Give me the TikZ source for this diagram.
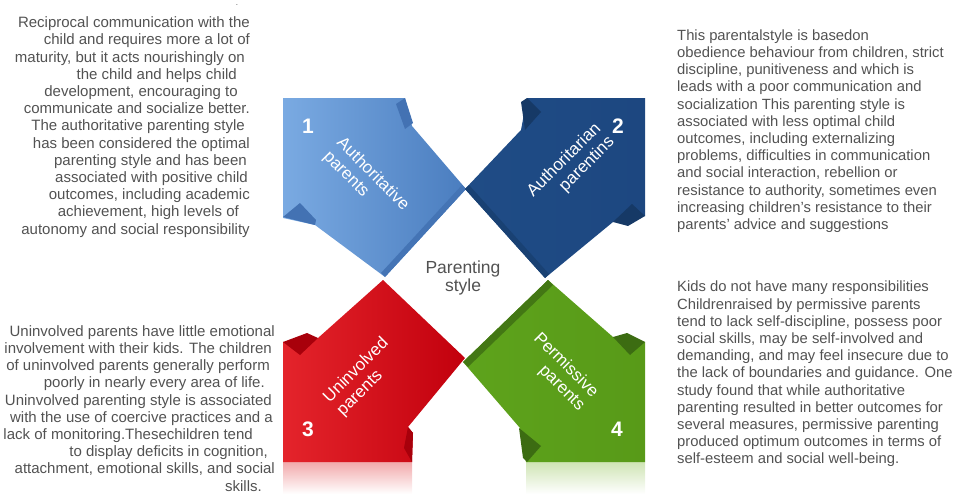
\documentclass[tikz,border=0pt]{standalone}
\usepackage{fontspec}
\setmainfont{Liberation Sans}
\definecolor{txtgray}{HTML}{525252}
\definecolor{blueL}{HTML}{7AAAE2}
\definecolor{blueR}{HTML}{4A7DBF}
\definecolor{blueDk}{HTML}{4372B3}
\definecolor{navy}{HTML}{1F4C86}
\definecolor{navyR}{HTML}{1D4780}
\definecolor{navyDk}{HTML}{163966}
\definecolor{redL}{HTML}{E4242B}
\definecolor{redR}{HTML}{C2000D}
\definecolor{redDk}{HTML}{A8000B}
\definecolor{grn}{HTML}{5EA31C}
\definecolor{grnR}{HTML}{589A18}
\definecolor{grnDk}{HTML}{3C6C12}
\definecolor{redRefl}{HTML}{F2A9AB}
\definecolor{grnRefl}{HTML}{CFE4B4}
\begin{document}
\begin{tikzpicture}[x=1pt,y=-1pt,
  body/.style={inner sep=0pt, text=txtgray, font=\fontsize{#1}{17.2}\selectfont},
  body/.default=15,
  num/.style={inner sep=0pt, text=white, font=\fontsize{21}{21}\selectfont\bfseries},
  label/.style={inner sep=0pt, text=white, font=\fontsize{17}{19}\selectfont},
  hub/.style={inner sep=0pt, text=txtgray, align=center, font=\fontsize{17.5}{15.7}\selectfont}]
\useasboundingbox (0,0) rectangle (956,495);

% ---- reflections under the two lower arrows
\shade[top color=redRefl, bottom color=white] (283,462) rectangle (412,494);
\shade[top color=grnRefl, bottom color=white] (526,462) rectangle (645,494);

% ---- arrow 1 (top left)
\path[left color=blueL, right color=blueR]
  (283,98) -- (405,98) -- (412,126) -- (466,189) -- (385,277) -- (315,225) -- (283,218) -- cycle;
\fill[blueDk] (396,104) -- (405,98) -- (413,123) -- (405,129) -- cycle;
\fill[blueDk] (283,217) -- (300,203) -- (316,220) -- (315,225) -- cycle;
\fill[blueDk!85!blueR] (466,189) -- (385,277) -- (381,273) -- (462,185) -- cycle;

% ---- arrow 2 (top right)
\path[left color=navy, right color=navyR]
  (645,98) -- (527,98) -- (521,130) -- (465,189) -- (545,278) -- (613,222) -- (645,216) -- cycle;
\fill[navyDk] (521,102) -- (527,98) -- (541,112) -- (525,130) -- cycle;
\fill[navyDk] (613,222) -- (632,204) -- (645,216) -- (628,226) -- cycle;
\fill[navyDk!60!navy] (465,189) -- (545,278) -- (549,274) -- (469,185) -- cycle;

% ---- arrow 3 (bottom left)
\path[left color=redL, right color=redR]
  (283,462) -- (412,462) -- (413,433) -- (408,427) -- (465,358) -- (383,280) -- (318,338) -- (283,342) -- cycle;
\fill[redDk] (283,342) -- (307,333) -- (318,338) -- (300,355) -- cycle;
\fill[redDk] (408,427) -- (413,433) -- (412,462) -- (404,448) -- cycle;

% ---- arrow 4 (bottom right)
\path[left color=grn, right color=grnR]
  (645,462) -- (526,462) -- (520,428) -- (463,362) -- (548,280) -- (613,337) -- (645,342) -- cycle;
\fill[grnDk!80!grn] (463,362) -- (548,280) -- (553,285) -- (468,367) -- cycle;
\fill[grnDk] (613,337) -- (627,333) -- (645,342) -- (630,355) -- cycle;
\fill[grnDk] (519,428) -- (541,446) -- (527,462) -- (523,458) -- cycle;

% ---- numbers and arrow labels
\node[num] (n1) at (308,126) {1};
\node[num] (n2) at (618,126) {2};
\node[num] (n3) at (308,429) {3};
\node[num] (n4) at (617,429) {4};

\node[label, rotate=-45, align=left]  (l1) at (366,181) {Authoritative\\parents};
\node[label, rotate=45,  align=right] (l2) at (571,167) {Authoritarian\\parentins};
\node[label, rotate=45,  align=left]  (l3) at (363,377) {Uninvolved\\parents};
\node[label, rotate=-45, align=right] (l4) at (559,372) {Permissive\\parents};

\node[hub, anchor=north] (hub) at (463,261) {Parenting\\style};

% ---- description texts
\node[body=8, anchor=center] (dot) at (237,5) {.};

\node[body, align=right, anchor=north east] (t1) at (250,16.6) {%
Reciprocal communication with the\\
child and requires more a lot of\\
maturity, but it acts nourishingly on\rule{5pt}{0pt}\\
the child and helps child\rule{13pt}{0pt}\\
development, encouraging to\rule{12pt}{0pt}\\
communicate and socialize better.\\
The authoritative parenting style\rule{5pt}{0pt}\\
has been considered the optimal\\
parenting style and has been\rule{3pt}{0pt}\\
associated with positive child\rule{2pt}{0pt}\\
outcomes, including academic\\
achievement, high levels of\rule{11pt}{0pt}\\
autonomy and social responsibility};

\node[body=14.8, align=left, anchor=north west] (t2) at (677,29.4) {%
This parentalstyle is basedon\\
obedience behaviour from children, strict\\
discipline, punitiveness and which is\\
leads with a poor communication and\\
socialization This parenting style is\\
associated with less optimal child\\
outcomes, including externalizing\\
problems, difficulties in communication\\
and social interaction, rebellion or\\
resistance to authority, sometimes even\\
increasing children's resistance to their\\
parents' advice and suggestions};

\node[body, align=right, anchor=north east] (t3) at (275,325.2) {%
Uninvolved parents have little emotional\\
involvement with their kids. The children\rule{3pt}{0pt}\\
of uninvolved parents generally perform\rule{5pt}{0pt}\\
poorly in nearly every area of life.\rule{10pt}{0pt}\\
Uninvolved parenting style is associated\rule{3pt}{0pt}\\
with the use of coercive practices and a\rule{2pt}{0pt}\\
lack of monitoring.Thesechildren tend\rule{22pt}{0pt}\\
to display deficits in cognition,\rule{7pt}{0pt}\\
attachment, emotional skills, and social\\
skills.\rule{13pt}{0pt}};

\node[body=14.8, align=left, anchor=north west] (t4) at (677,281) {%
Kids do not have many responsibilities\\
Childrenraised by permissive parents\\
tend to lack self-discipline, possess poor\\
social skills, may be self-involved and\\
demanding, and may feel insecure due to\\
the lack of boundaries and guidance. One\\
study found that while authoritative\\
parenting resulted in better outcomes for\\
several measures, permissive parenting\\
produced optimum outcomes in terms of\\
self-esteem and social well-being.};
\end{tikzpicture}
\end{document}
